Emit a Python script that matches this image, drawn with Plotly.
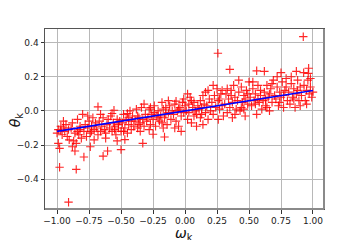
import plotly.graph_objects as go

# (omega_k, theta_k) samples
omega = [
 -1.00,-0.99,-0.98,-0.98,-0.99,-0.97,-0.96,-0.95,-0.94,-0.93,-0.92,-0.91,-0.91,-0.905,-0.95,-0.97,
 -0.89,-0.88,-0.88,-0.87,-0.86,-0.85,-0.85,-0.84,-0.84,-0.83,-0.82,-0.81,-0.80,-0.82,-0.86,
 -0.79,-0.79,-0.78,-0.77,-0.76,-0.75,-0.74,-0.74,-0.73,-0.72,-0.71,-0.71,-0.70,-0.76,-0.73,
 -0.69,-0.68,-0.68,-0.67,-0.66,-0.65,-0.64,-0.64,-0.63,-0.62,-0.61,-0.605,-0.60,-0.66,-0.62,
 -0.59,-0.58,-0.57,-0.56,-0.555,-0.55,-0.54,-0.53,-0.53,-0.52,-0.51,-0.50,-0.50,-0.57,-0.52,-0.55,
 -0.49,-0.48,-0.47,-0.47,-0.46,-0.45,-0.44,-0.43,-0.42,-0.42,-0.41,-0.40,-0.45,-0.48,-0.44,
 -0.39,-0.38,-0.37,-0.36,-0.35,-0.35,-0.34,-0.33,-0.33,-0.32,-0.31,-0.30,-0.37,-0.32,-0.36,
 -0.29,-0.28,-0.27,-0.26,-0.25,-0.25,-0.24,-0.23,-0.22,-0.21,-0.20,-0.28,-0.24,-0.21,-0.27,
 -0.19,-0.18,-0.18,-0.17,-0.16,-0.16,-0.15,-0.14,-0.13,-0.12,-0.11,-0.10,-0.17,-0.13,-0.15,
 -0.09,-0.08,-0.07,-0.07,-0.06,-0.05,-0.04,-0.03,-0.02,-0.01,0.00,-0.08,-0.05,-0.03,-0.01,
 0.01,0.02,0.03,0.03,0.04,0.05,0.06,0.07,0.07,0.08,0.09,0.10,0.02,0.05,0.09,
 0.11,0.12,0.12,0.13,0.14,0.15,0.16,0.16,0.17,0.18,0.19,0.20,0.14,0.18,0.13,
 0.21,0.22,0.23,0.24,0.25,0.257,0.26,0.26,0.27,0.28,0.29,0.30,0.22,0.27,0.29,
 0.31,0.32,0.33,0.34,0.35,0.35,0.36,0.37,0.37,0.38,0.39,0.40,0.33,0.36,0.39,
 0.41,0.42,0.43,0.44,0.45,0.46,0.47,0.48,0.49,0.50,0.44,0.47,0.49,0.42,0.46,
 0.51,0.52,0.53,0.54,0.55,0.56,0.56,0.57,0.58,0.59,0.60,0.53,0.57,0.59,0.55,
 0.61,0.62,0.62,0.63,0.64,0.65,0.66,0.67,0.68,0.69,0.70,0.64,0.66,0.68,0.63,
 0.71,0.72,0.73,0.74,0.75,0.75,0.76,0.77,0.78,0.79,0.80,0.72,0.77,0.79,0.74,
 0.81,0.82,0.83,0.84,0.85,0.86,0.87,0.87,0.88,0.89,0.90,0.83,0.85,0.88,0.90,
 0.91,0.924,0.927,0.93,0.94,0.95,0.96,0.963,0.966,0.97,0.98,0.99,1.00,0.98,0.95,
]
theta = [
 -0.13,-0.19,-0.22,-0.33,-0.11,-0.09,-0.14,-0.10,-0.12,-0.08,-0.15,-0.535,-0.11,-0.17,-0.06,-0.115,
 -0.10,-0.21,-0.07,-0.176,-0.235,-0.19,-0.343,-0.12,-0.05,-0.14,-0.09,-0.16,-0.02,-0.11,-0.13,
 -0.27,-0.12,-0.08,-0.15,-0.10,-0.06,-0.21,-0.13,-0.09,-0.04,-0.17,-0.11,-0.07,-0.03,-0.12,
 -0.10,0.024,-0.14,-0.06,-0.12,-0.09,-0.265,-0.04,-0.11,-0.16,-0.08,-0.235,-0.05,-0.02,-0.13,
 -0.10,-0.03,-0.12,-0.07,0.004,-0.09,-0.14,-0.176,-0.05,-0.10,-0.06,-0.227,-0.12,-0.015,-0.08,-0.11,
 -0.07,-0.02,-0.168,-0.10,-0.05,-0.13,-0.08,0.00,-0.06,-0.11,-0.03,-0.09,-0.015,-0.12,-0.04,
 -0.06,0.01,-0.10,-0.04,-0.12,-0.07,0.02,-0.19,-0.05,-0.09,-0.02,-0.06,-0.03,0.04,-0.08,
 -0.04,0.01,-0.08,-0.02,-0.137,-0.05,0.03,-0.09,-0.03,0.00,-0.06,-0.11,-0.01,-0.04,0.02,
 -0.03,0.05,-0.07,0.01,-0.153,-0.04,0.02,-0.08,-0.01,0.03,-0.05,0.00,-0.10,0.06,-0.02,
 -0.02,0.04,0.057,-0.06,0.00,-0.09,0.02,-0.03,0.05,-0.01,0.03,-0.10,0.01,-0.12,0.07,
 0.00,-0.05,0.04,-0.01,0.08,-0.07,0.02,-0.03,0.05,0.00,-0.09,0.03,0.10,0.06,-0.02,
 0.01,-0.04,0.06,0.02,-0.08,0.04,0.11,-0.01,0.03,-0.05,0.07,0.00,0.09,0.12,-0.02,
 0.05,-0.02,0.09,0.02,0.13,0.338,-0.05,0.06,0.01,0.10,0.03,-0.03,0.15,0.07,0.12,
 0.04,0.10,-0.01,0.07,0.243,0.02,0.12,0.05,-0.04,0.15,0.08,0.01,0.13,0.09,-0.02,
 0.06,0.11,0.00,0.14,0.05,0.09,-0.03,0.12,0.04,0.17,0.02,0.07,0.10,0.18,0.01,
 0.08,0.03,0.13,0.06,0.10,0.235,-0.02,0.15,0.05,0.09,0.01,0.17,0.07,0.12,0.04,
 0.06,0.232,0.11,0.03,0.15,0.08,0.00,0.13,0.05,0.18,0.09,0.02,0.10,0.16,0.07,
 0.07,0.14,0.03,0.11,0.224,0.08,0.17,0.02,0.12,0.19,0.06,0.20,0.09,0.14,0.05,
 0.11,0.04,0.16,0.08,0.13,0.02,0.232,0.10,0.18,0.06,0.14,0.20,0.07,0.12,0.03,
 0.09,0.435,0.224,0.15,0.06,0.12,0.18,0.22,0.25,0.10,0.14,0.08,0.11,0.19,0.04,
]

# fitted line endpoints
fit_omega = [-1.0, 1.0]
fit_theta = [-0.12, 0.12]

x_ticks = [-1.0, -0.75, -0.5, -0.25, 0.0, 0.25, 0.5, 0.75, 1.0]
y_ticks = [-0.4, -0.2, 0.0, 0.2, 0.4]

fig = go.Figure()
fig.add_trace(go.Scatter(
    x=omega, y=theta, mode="markers",
    marker=dict(symbol="cross-thin", size=6, color="rgba(255,0,0,0.85)",
                line=dict(width=1.15, color="rgba(255,0,0,0.85)")),
    showlegend=False, hoverinfo="skip"))
fig.add_trace(go.Scatter(
    x=fit_omega, y=fit_theta, mode="lines",
    line=dict(color="#0000ff", width=1.6), showlegend=False, hoverinfo="skip"))

axis_common = dict(
    showgrid=True, gridcolor="#b8b8b8", gridwidth=1, automargin=False,
    zeroline=False, showline=True, linecolor="#555555", linewidth=1, mirror=True,
    ticks="outside", ticklen=3.5, tickcolor="#333333", tickwidth=1,
    tickfont=dict(family="DejaVu Sans", size=9, color="#222222"),
)

# page body has an 8px default margin, so the margins below are offset by it
fig.update_layout(
    width=360, height=240,
    margin=dict(l=37, r=44, t=21, b=39),
    paper_bgcolor="white", plot_bgcolor="white",
    xaxis=dict(range=[-1.094, 1.086], tickvals=x_ticks, tickformat=".2f", **axis_common),
    yaxis=dict(range=[-0.575, 0.48], tickvals=y_ticks, tickformat=".1f", **axis_common),
    shapes=[
        dict(type="line", xref="paper", yref="paper", x0=1, x1=1, y0=0, y1=1,
             line=dict(color="#8a8a8a", width=2)),
        dict(type="line", xref="paper", yref="paper", x0=0, x1=1, y0=0, y1=0,
             line=dict(color="#8a8a8a", width=2)),
    ],
    annotations=[
        dict(text="<i>ω</i><sub>k</sub>", xref="paper", yref="paper", x=0.498, y=-0.14,
             xanchor="center", yanchor="middle", showarrow=False,
             font=dict(family="DejaVu Sans", size=14, color="#111")),
        dict(text="<i>θ</i><sub>k</sub>", xref="paper", yref="paper", x=-0.103, y=0.494,
             xanchor="center", yanchor="middle", showarrow=False, textangle=-90,
             font=dict(family="DejaVu Sans", size=14, color="#111")),
    ],
)

fig.write_html("out.html")
